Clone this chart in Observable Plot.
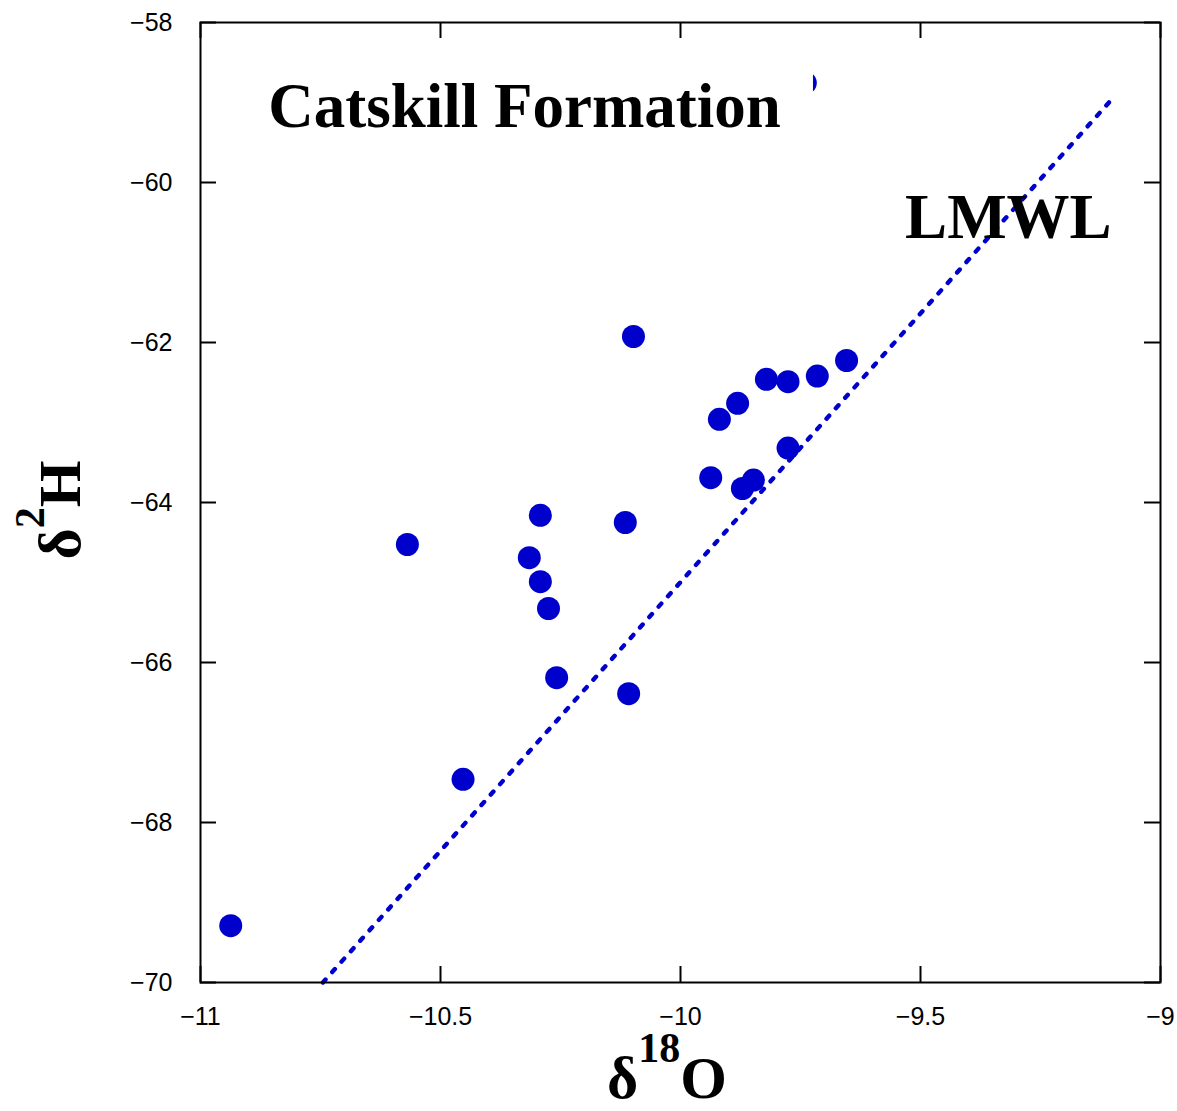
<!DOCTYPE html>
<html><head><meta charset="utf-8">
<script src="https://cdn.jsdelivr.net/npm/d3@7"></script>
<script src="https://cdn.jsdelivr.net/npm/@observablehq/plot@0.6"></script>
<style>body{margin:0;background:#fff}</style>
</head><body><div id="chart"></div>
<script>
// δ18O / δ2H of samples (last one is hidden behind the title box in the original)
const d18O = [-10.937, -10.569, -10.453, -10.315, -10.292, -10.292, -10.275, -10.258, -10.115, -10.108, -10.098,
              -9.937, -9.919, -9.881, -9.871, -9.848, -9.821, -9.776, -9.776, -9.715, -9.654, -9.740];
const d2H  = [-69.29, -64.525, -67.46, -64.69, -64.16, -64.99, -65.325, -66.19, -64.25, -66.39, -61.925,
              -63.69, -62.96, -62.76, -63.825, -63.72, -62.46, -62.49, -63.32, -62.42, -62.225, -58.756];
// Local meteoric water line endpoints
const lmwlX = [-10.745, -9.1];
const lmwlY = [-70, -58.95];
const xTicks = [-11, -10.5, -10, -9.5, -9];
const yTicks = [-70, -68, -66, -64, -62, -60, -58];
const titleText = "Catskill Formation";
const lineLabel = "LMWL";

const points = d18O.map((x, i) => ({x, y: d2H[i]}));
const lmwl = lmwlX.map((x, i) => ({x, y: lmwlY[i]}));
const W = 1177, H = 1111, mL = 200, mR = 17, mT = 22, mB = 129;
const pw = W - mL - mR, ph = H - mT - mB, tl = 16;
const blue = "#0000cc";
const fmt = d3.format("");

const plot = Plot.plot({
  width: W, height: H,
  marginLeft: mL, marginRight: mR, marginTop: mT, marginBottom: mB,
  x: {domain: [-11, -9]},
  y: {domain: [-70, -58]},
  style: {fontFamily: "Liberation Sans, Arial, sans-serif", fontSize: "25px", color: "black", background: "white"},
  marks: [
    Plot.axisX({ticks: xTicks, tickFormat: fmt, tickSize: 0, tickPadding: 25, label: null}),
    Plot.axisY({ticks: yTicks, tickFormat: fmt, tickSize: 0, tickPadding: 28, label: null}),
    Plot.line(lmwl, {x: "x", y: "y", stroke: blue, strokeWidth: 4.4, strokeDasharray: "4,10", strokeLinecap: "round"}),
    Plot.dot(points, {x: "x", y: "y", r: 11.5, fill: blue}),
    Plot.rect([{x1: -10.92, x2: -9.723, y1: -58.225, y2: -59.6}], {x1: "x1", x2: "x2", y1: "y1", y2: "y2", fill: "white"}),
    Plot.tickX(xTicks, {x: d => d, insetTop: ph - tl, stroke: "black", strokeWidth: 2}),
    Plot.tickX(xTicks, {x: d => d, insetBottom: ph - tl, stroke: "black", strokeWidth: 2}),
    Plot.tickY(yTicks, {y: d => d, insetRight: pw - tl, stroke: "black", strokeWidth: 2}),
    Plot.tickY(yTicks, {y: d => d, insetLeft: pw - tl, stroke: "black", strokeWidth: 2}),
    Plot.frame({stroke: "black", strokeWidth: 2})
  ]
});
document.getElementById("chart").appendChild(plot);

const sx = plot.scale("x"), sy = plot.scale("y");
const svg = d3.select(plot);
const serif = "Liberation Serif, Times New Roman, serif";
svg.append("text").attr("x", sx.apply(-10.858)).attr("y", sy.apply(-59.3125)).attr("text-anchor", "start")
  .attr("font-family", serif).attr("font-weight", "bold").attr("font-size", 63).attr("fill", "black")
  .text(titleText);
svg.append("text").attr("x", sx.apply(-9.531)).attr("y", sy.apply(-60.7)).attr("text-anchor", "start")
  .attr("font-family", serif).attr("font-weight", "bold").attr("font-size", 63).attr("fill", "black")
  .text(lineLabel);

// x axis title δ18O
const xt = svg.append("text").attr("x", 667).attr("y", 1098).attr("text-anchor", "middle")
  .attr("font-family", serif).attr("font-weight", "bold").attr("font-size", 60).attr("fill", "black");
xt.append("tspan").text("δ");
xt.append("tspan").attr("font-size", 42).attr("dy", -36).text("18");
xt.append("tspan").attr("dy", 36).text("O");
// y axis title δ2H
const yt = svg.append("text").attr("transform", "translate(80,510) rotate(-90)").attr("text-anchor", "middle")
  .attr("font-family", serif).attr("font-weight", "bold").attr("font-size", 60).attr("fill", "black");
yt.append("tspan").text("δ");
yt.append("tspan").attr("font-size", 42).attr("dy", -36).text("2");
yt.append("tspan").attr("dy", 36).text("H");
</script>
</body></html>
